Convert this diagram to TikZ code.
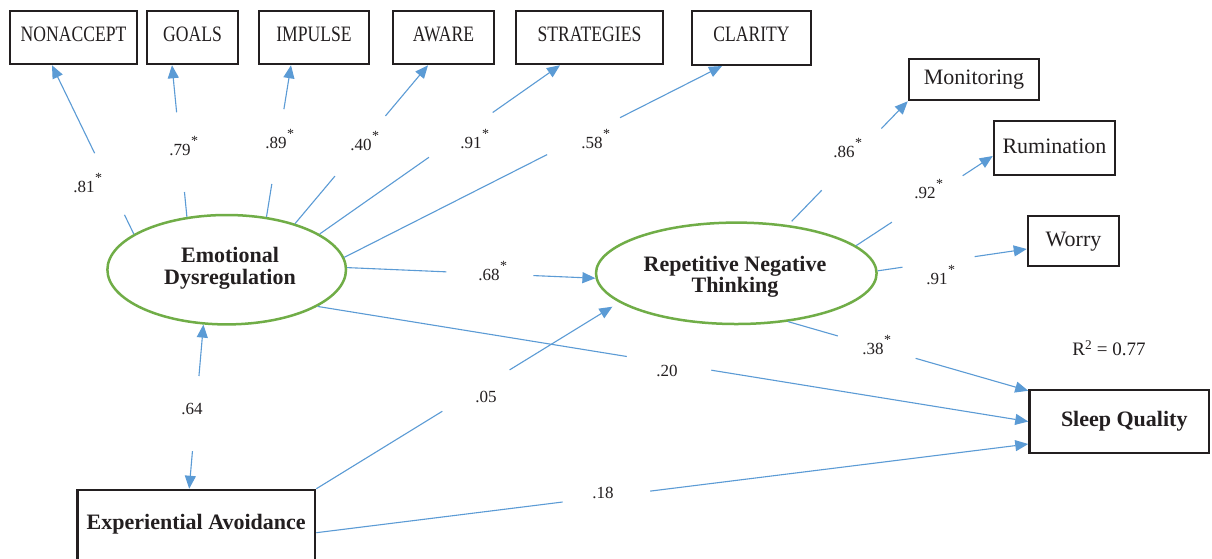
\documentclass[tikz,border=0pt]{standalone}
\usepackage{fontspec}
\setmainfont{Liberation Serif}
\usepackage{graphicx}
\usetikzlibrary{arrows.meta,calc,shapes.geometric}
\definecolor{lblue}{HTML}{5B9BD5}
\definecolor{lgreen}{HTML}{70AD47}
\definecolor{ink}{HTML}{231F20}
\newcommand\st{\smash{\rlap{\kern0.5pt\raisebox{10pt}{\fontsize{14}{14}\selectfont *}}}}
\newcommand\capt[1]{\scalebox{0.8}[1]{#1}}
\newcommand\gapline[6][]{\draw[conn,#1] ($#2!#4!#3$) -- ($#2!#5!#3$) ($#2!#6!#3$) -- #3;}
\begin{document}
\begin{tikzpicture}[x=1pt,y=-1pt,
  box/.style={draw=ink,line width=2.5pt,rectangle,inner sep=0pt,text=ink,
    font=\fontsize{22}{24}\selectfont,text height=15pt,text depth=5pt},
  capbox/.style={box,text height=14pt,text depth=6pt},
  boldbox/.style={box,font=\bfseries\fontsize{22}{24}\selectfont},
  ell/.style={draw=lgreen,line width=2.5pt,ellipse,inner sep=0pt},
  etxt/.style={align=center,inner sep=0pt,text=ink},
  conn/.style={draw=lblue,line width=1.1pt,-{Triangle[length=13pt,width=11pt]}},
  lab/.style={inner sep=0pt,text=ink,font=\fontsize{17}{17}\selectfont}]
\useasboundingbox[fill=white] (0,0) rectangle (1212,558);

% indicator boxes (top)
\node[capbox,minimum width=127,minimum height=53] (NON) at (73.5,37.5) {\capt{NONACCEPT}};
\node[capbox,minimum width=91,minimum height=53] (GOA) at (192.5,37.5) {\capt{GOALS}};
\node[capbox,minimum width=110,minimum height=53] (IMP) at (314,37.5) {\capt{IMPULSE}};
\node[capbox,minimum width=101,minimum height=53] (AWA) at (443.5,37.5) {\capt{AWARE}};
\node[capbox,minimum width=147,minimum height=53] (STR) at (589.5,37.5) {\capt{STRATEGIES}};
\node[capbox,minimum width=119,minimum height=54] (CLA) at (751.5,37.75) {\capt{CLARITY}};

% RNT indicators
\node[box,minimum width=130,minimum height=41] (MON) at (974,79.5) {Monitoring};
\node[box,minimum width=121,minimum height=54] (RUM) at (1054.5,148) {Rumination};
\node[box,minimum width=91,minimum height=50] (WOR) at (1073.5,241) {Worry};

% outcome and predictor
\node[boldbox,minimum width=179.5,minimum height=63] (SQ) at (1119.25,421.5) {\hspace*{10pt}Sleep Quality};
\node[boldbox,minimum width=237.7,minimum height=74,text depth=11pt] (EA) at (196.2,527) {Experiential Avoidance};

% latent variables
\node[ell,minimum width=238.6,minimum height=109.4] (ED) at (226.7,269.7) {};
\node[etxt,font=\bfseries\fontsize{22}{21.3}\selectfont] (EDt) at (230,268.3) {Emotional\\Dysregulation};
\node[ell,minimum width=280.6,minimum height=101.4] (RNT) at (736.3,273.3) {};
\node[etxt,font=\bfseries\fontsize{22}{20.3}\selectfont] (RNTt) at (735,276.7) {Repetitive Negative\\Thinking};

% arrow targets
\coordinate (tNON) at ([xshift=-21.5pt]NON.south);
\coordinate (tGOA) at ([xshift=-20.5pt]GOA.south);
\coordinate (tIMP) at ([xshift=-23pt]IMP.south);
\coordinate (tAWA) at ([xshift=-15.5pt]AWA.south);
\coordinate (tSTR) at ([xshift=-29.5pt]STR.south);
\coordinate (tCLA) at ([xshift=-29.5pt]CLA.south);
\coordinate (tEA) at ([xshift=-7pt]EA.north);
\coordinate (sEA) at ([yshift=-5.7pt]EA.east);
\coordinate (tSQa) at ([yshift=-2pt]SQ.north west);
\coordinate (tSQc) at ([yshift=-22.5pt]SQ.west);
\coordinate (tRUM) at ([yshift=-8pt]RUM.west);
\coordinate (tWOR) at ([yshift=-8pt]WOR.west);

% connectors with gaps for the coefficients
\gapline{(ED.159)}{(tNON)}{0}{0.114}{0.479}
\gapline{(ED.127)}{(tGOA)}{0}{0.164}{0.69}
\gapline{(ED.53)}{(tIMP)}{0}{0.217}{0.71}
\gapline{(ED.34)}{(tAWA)}{0}{0.30}{0.68}
\gapline{(ED.21)}{(tSTR)}{0}{0.455}{0.72}
\gapline{(ED.6)}{(tCLA)}{0}{0.537}{0.73}
\gapline{(ED.1)}{(RNT.182)}{0}{0.40}{0.75}
\gapline{(ED.-22)}{(SQ.west)}{0}{0.435}{0.554}
% correlation ED <-> EA (two halves, each with its own head)
\draw[conn] ($(ED.247)!0.313!(tEA)$) -- (ED.247);
\draw[conn] ($(ED.247)!0.771!(tEA)$) -- (tEA);
\gapline[shorten >=8pt]{(EA.north east)}{(RNT.194)}{0}{0.416}{0.638}
\gapline{(sEA)}{(tSQc)}{0}{0.346}{0.469}
\gapline{(RNT.-43)}{(tSQa)}{0}{0.207}{0.531}
\gapline{(RNT.43)}{(MON.south west)}{0.03}{0.28}{0.78}
\gapline{(RNT.13.5)}{(tRUM)}{0}{0.262}{0.78}
\gapline{(RNT.1)}{(tWOR)}{0}{0.166}{0.65}

% coefficients
\node[lab] (l81) at (84,187) {.81\st};
\node[lab] (l79) at (180,150) {.79\st};
\node[lab] (l89) at (276,143) {.89\st};
\node[lab] (l40) at (361,145) {.40\st};
\node[lab] (l91a) at (471,143) {.91\st};
\node[lab] (l58) at (592,143) {.58\st};
\node[lab] (l86) at (844,152) {.86\st};
\node[lab] (l92) at (925,193) {.92\st};
\node[lab] (l91b) at (937,279) {.91\st};
\node[lab] (l68) at (489,275) {.68\st};
\node[lab] (l38) at (873,349) {.38\st};
\node[lab] (l20) at (667,371) {.20};
\node[lab] (l05) at (486,397) {.05};
\node[lab] (l64) at (192,409) {.64};
\node[lab] (l18) at (603,493) {.18};
\node[lab,font=\fontsize{19}{19}\selectfont] (r2) at (1109,348) {R\textsuperscript{2} = 0.77};
\end{tikzpicture}
\end{document}
